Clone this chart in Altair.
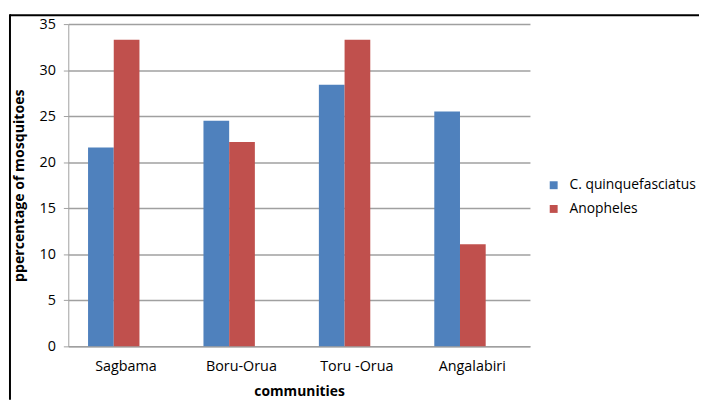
import altair as alt
import pandas as pd

communities = ["Sagbama", "Boru-Orua", "Toru -Orua", "Angalabiri"]
culex = [21.6, 24.5, 28.4, 25.5]
anopheles = [33.3, 22.2, 33.3, 11.1]
series = ["C. quinquefasciatus", "Anopheles"]
colors = ["#4F81BD", "#C0504D"]

df = pd.DataFrame({
    "community": communities * 2,
    "series": [series[0]] * 4 + [series[1]] * 4,
    "value": culex + anopheles,
})

FONT = "Open Sans"

x = alt.X("community:N", sort=communities, title="communities",
          scale=alt.Scale(paddingInner=0, paddingOuter=0),
          axis=alt.Axis(labelAngle=0, ticks=False, grid=False, domainColor="#a0a0a0",
                        labelFont=FONT, labelFontSize=14.5, labelColor="#000000", labelPadding=13,
                        titleFont=FONT, titleFontSize=14, titleFontWeight="bold", titleColor="#000000",
                        titleY=46, titleBaseline="middle"))
y = alt.Y("value:Q", title="ppercentage of mosquitoes",
          scale=alt.Scale(domain=[0, 35], nice=False),
          axis=alt.Axis(values=[0, 5, 10, 15, 20, 25, 30, 35], tickSize=5, tickColor="#a0a0a0",
                        domainColor="#a0a0a0", gridColor="#a0a0a0", gridWidth=1.5,
                        labelFont=FONT, labelFontSize=14.5, labelColor="#000000", labelPadding=8,
                        titleFont=FONT, titleFontSize=14.3, titleFontWeight="bold", titleColor="#000000",
                        titleX=-49, titleY=163, titleAngle=270, titleBaseline="middle", titleAlign="center"))
color = alt.Color("series:N", scale=alt.Scale(domain=series, range=colors),
                  legend=alt.Legend(title=None, orient="none", legendX=484, legendY=156,
                                    symbolType="square", symbolSize=64, symbolStrokeWidth=0,
                                    labelFont=FONT, labelFontSize=14, labelColor="#000000",
                                    rowPadding=10, labelOffset=9))

base = alt.Chart(df)
blue = base.transform_filter(alt.datum.series == series[0]).mark_bar(width=26, xOffset=-25.4).encode(x=x, y=y, color=color)
red = base.transform_filter(alt.datum.series == series[1]).mark_bar(width=26, xOffset=0.6).encode(x=x, y=y, color=color)

frame_top = alt.Chart(pd.DataFrame({"a": [0]})).mark_rule(color="#000000", strokeWidth=2).encode(
    x=alt.value(-59), x2=alt.value(640), y=alt.value(-9))
frame_left = alt.Chart(pd.DataFrame({"a": [0]})).mark_rule(color="#000000", strokeWidth=2).encode(
    x=alt.value(-59), y=alt.value(-10), y2=alt.value(380))

chart = alt.layer(blue, red, frame_top, frame_left).properties(
    width=467, height=326,
    autosize=alt.AutoSizeParams(type="none"),
    padding={"left": 61, "top": 14, "right": 171, "bottom": 53},
).configure_view(stroke=None)

chart.save("out.html", embed_options={"renderer": "svg", "actions": False})
